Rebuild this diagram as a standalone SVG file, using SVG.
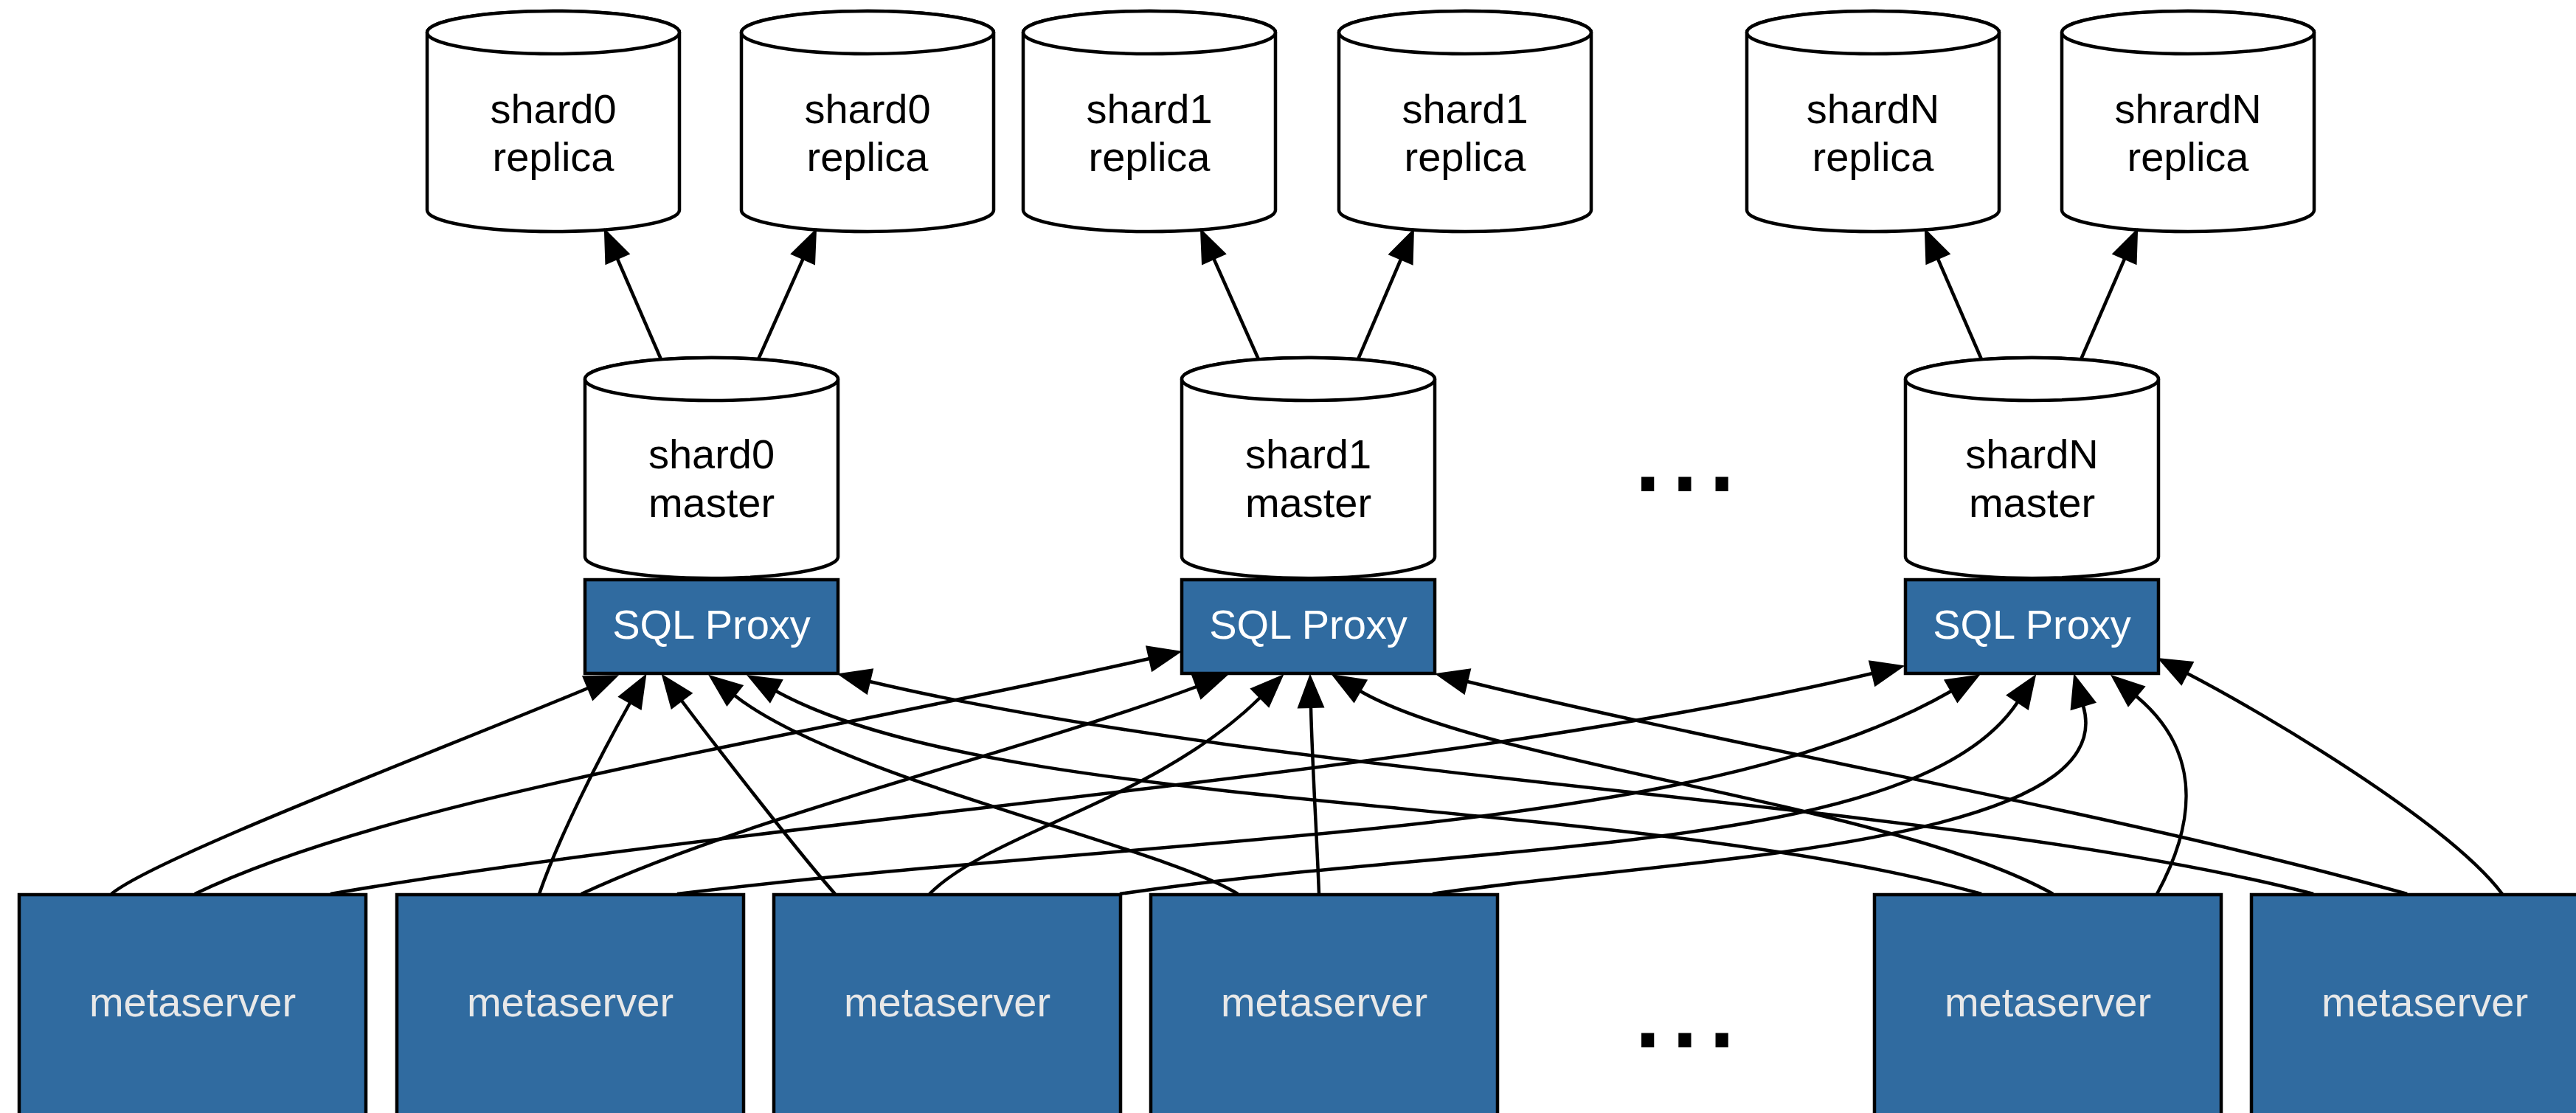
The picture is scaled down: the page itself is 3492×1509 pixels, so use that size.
<svg xmlns="http://www.w3.org/2000/svg" width="3492" height="1509" viewBox="0 0 3492 1509">
<defs>
<style>
.cyl{fill:#ffffff;stroke:#000000;stroke-width:4.5}
.proxy{fill:#306ba0;stroke:#000000;stroke-width:4.5}
.meta{fill:#306ba0;stroke:#000000;stroke-width:4.5}
.t{font-family:"Liberation Sans",Arial,Helvetica,sans-serif;font-size:56px;text-anchor:middle}
.tb{fill:#000000}
.tw{fill:#ffffff}
.tg{fill:#e8e8e8}
.dots{font-family:"Liberation Sans",Arial,sans-serif;font-size:181px;fill:#000000}
.edge{fill:none;stroke:#000000;stroke-width:4.5;marker-end:url(#arr)}
</style>
<marker id="arr" markerUnits="userSpaceOnUse" markerWidth="46" markerHeight="38" refX="0" refY="17" orient="auto" overflow="visible">
<path d="M0,0 L43,17 L0,34 Z" fill="#000000" stroke="#000000" stroke-width="2"/>
</marker>
</defs>
<rect width="3492" height="1509" fill="#ffffff"/>

<g id="replica-shard0-a">
<path class="cyl" d="M579,44 V285 A171,29 0 0 0 921,285 V44 A171,29 0 0 0 579,44 Z"/>
<ellipse class="cyl" cx="750" cy="44" rx="171" ry="29"/>
<text class="t tb" x="750" y="167">shard0</text>
<text class="t tb" x="750" y="232">replica</text>
</g>
<g id="replica-shard0-b">
<path class="cyl" d="M1005,44 V285 A171,29 0 0 0 1347,285 V44 A171,29 0 0 0 1005,44 Z"/>
<ellipse class="cyl" cx="1176" cy="44" rx="171" ry="29"/>
<text class="t tb" x="1176" y="167">shard0</text>
<text class="t tb" x="1176" y="232">replica</text>
</g>
<g id="replica-shard1-a">
<path class="cyl" d="M1387,44 V285 A171,29 0 0 0 1729,285 V44 A171,29 0 0 0 1387,44 Z"/>
<ellipse class="cyl" cx="1558" cy="44" rx="171" ry="29"/>
<text class="t tb" x="1558" y="167">shard1</text>
<text class="t tb" x="1558" y="232">replica</text>
</g>
<g id="replica-shard1-b">
<path class="cyl" d="M1815,44 V285 A171,29 0 0 0 2157,285 V44 A171,29 0 0 0 1815,44 Z"/>
<ellipse class="cyl" cx="1986" cy="44" rx="171" ry="29"/>
<text class="t tb" x="1986" y="167">shard1</text>
<text class="t tb" x="1986" y="232">replica</text>
</g>
<g id="replica-shardN-a">
<path class="cyl" d="M2368,44 V285 A171,29 0 0 0 2710,285 V44 A171,29 0 0 0 2368,44 Z"/>
<ellipse class="cyl" cx="2539" cy="44" rx="171" ry="29"/>
<text class="t tb" x="2539" y="167">shardN</text>
<text class="t tb" x="2539" y="232">replica</text>
</g>
<g id="replica-shardN-b">
<path class="cyl" d="M2795,44 V285 A171,29 0 0 0 3137,285 V44 A171,29 0 0 0 2795,44 Z"/>
<ellipse class="cyl" cx="2966" cy="44" rx="171" ry="29"/>
<text class="t tb" x="2966" y="167">shrardN</text>
<text class="t tb" x="2966" y="232">replica</text>
</g>

<g id="master-shard0">
<path class="cyl" d="M793,514 V755 A171.5,29 0 0 0 1136,755 V514 A171.5,29 0 0 0 793,514 Z"/>
<ellipse class="cyl" cx="964.5" cy="514" rx="171.5" ry="29"/>
<text class="t tb" x="964.5" y="635">shard0</text>
<text class="t tb" x="964.5" y="701">master</text>
</g>
<g id="master-shard1">
<path class="cyl" d="M1602,514 V755 A171.5,29 0 0 0 1945,755 V514 A171.5,29 0 0 0 1602,514 Z"/>
<ellipse class="cyl" cx="1773.5" cy="514" rx="171.5" ry="29"/>
<text class="t tb" x="1773.5" y="635">shard1</text>
<text class="t tb" x="1773.5" y="701">master</text>
</g>
<g id="master-shardN">
<path class="cyl" d="M2583,514 V755 A171.5,29 0 0 0 2926,755 V514 A171.5,29 0 0 0 2583,514 Z"/>
<ellipse class="cyl" cx="2754.5" cy="514" rx="171.5" ry="29"/>
<text class="t tb" x="2754.5" y="635">shardN</text>
<text class="t tb" x="2754.5" y="701">master</text>
</g>

<g id="proxy-shard0">
<rect class="proxy" x="793" y="786" width="343" height="127"/>
<text class="t tw" x="964.5" y="866">SQL Proxy</text>
</g>
<g id="proxy-shard1">
<rect class="proxy" x="1602" y="786" width="343" height="127"/>
<text class="t tw" x="1773.5" y="866">SQL Proxy</text>
</g>
<g id="proxy-shardN">
<rect class="proxy" x="2583" y="786" width="343" height="127"/>
<text class="t tw" x="2754.5" y="866">SQL Proxy</text>
</g>

<g id="metaserver-1">
<rect class="meta" x="26" y="1213" width="470" height="400"/>
<text class="t tg" x="261" y="1378">metaserver</text>
</g>
<g id="metaserver-2">
<rect class="meta" x="538" y="1213" width="470" height="400"/>
<text class="t tg" x="773" y="1378">metaserver</text>
</g>
<g id="metaserver-3">
<rect class="meta" x="1049" y="1213" width="470" height="400"/>
<text class="t tg" x="1284" y="1378">metaserver</text>
</g>
<g id="metaserver-4">
<rect class="meta" x="1560" y="1213" width="470" height="400"/>
<text class="t tg" x="1795" y="1378">metaserver</text>
</g>
<g id="metaserver-5">
<rect class="meta" x="2541" y="1213" width="470" height="400"/>
<text class="t tg" x="2776" y="1378">metaserver</text>
</g>
<g id="metaserver-6">
<rect class="meta" x="3052" y="1213" width="470" height="400"/>
<text class="t tg" x="3287" y="1378">metaserver</text>
</g>

<g id="ellipsis-shards"><text class="dots" x="2208.5" y="666">...</text></g>
<g id="ellipsis-metaservers"><text class="dots" x="2208.5" y="1420">...</text></g>

<g id="connectors">
<path class="edge" d="M896,487 L837,351"/>
<path class="edge" d="M1028,487 L1088.5,351"/>
<path class="edge" d="M1706,487 L1645.5,351"/>
<path class="edge" d="M1841,487 L1899,351.5"/>
<path class="edge" d="M2686,487 L2627,351"/>
<path class="edge" d="M2821,487 L2880,351"/>

<path class="edge" d="M151,1212 C211,1162 614,1010 797,933"/>
<path class="edge" d="M264,1212 C538,1080 1073,1003 1558,893"/>
<path class="edge" d="M448,1212 C1039,1110 1956,1051 2538,913"/>
<path class="edge" d="M731,1212 C757,1137 810,1031 854,953"/>
<path class="edge" d="M788,1212 C1013,1107 1387,1019 1622,931"/>
<path class="edge" d="M918,1212 C1611,1128 2297,1137 2645,937"/>
<path class="edge" d="M1132,1212 C1079,1152 960,998 924,950"/>
<path class="edge" d="M1260,1212 C1344,1128 1566,1086 1708,946"/>
<path class="edge" d="M1518,1212 C2000,1140 2597,1160 2735,952"/>
<path class="edge" d="M1678,1212 C1576,1148 1138,1055 996,943"/>
<path class="edge" d="M1788,1212 C1785,1130 1779,1040 1777,959"/>
<path class="edge" d="M1942,1212 C2250,1165 2880,1149 2824,957"/>
<path class="edge" d="M2686,1212 C2206,1077 1357,1105 1052,937"/>
<path class="edge" d="M2783,1212 C2565,1090 2016,1037 1844,937"/>
<path class="edge" d="M2924,1212 C2985,1100 2975,1010 2896,944"/>
<path class="edge" d="M3136,1212 C2656,1087 1761,1061 1179,924"/>
<path class="edge" d="M3263,1212 C2879,1104 2377,1019 1989,924"/>
<path class="edge" d="M3392,1212 C3320,1116 3071,968 2965,913"/>
</g>
</svg>
